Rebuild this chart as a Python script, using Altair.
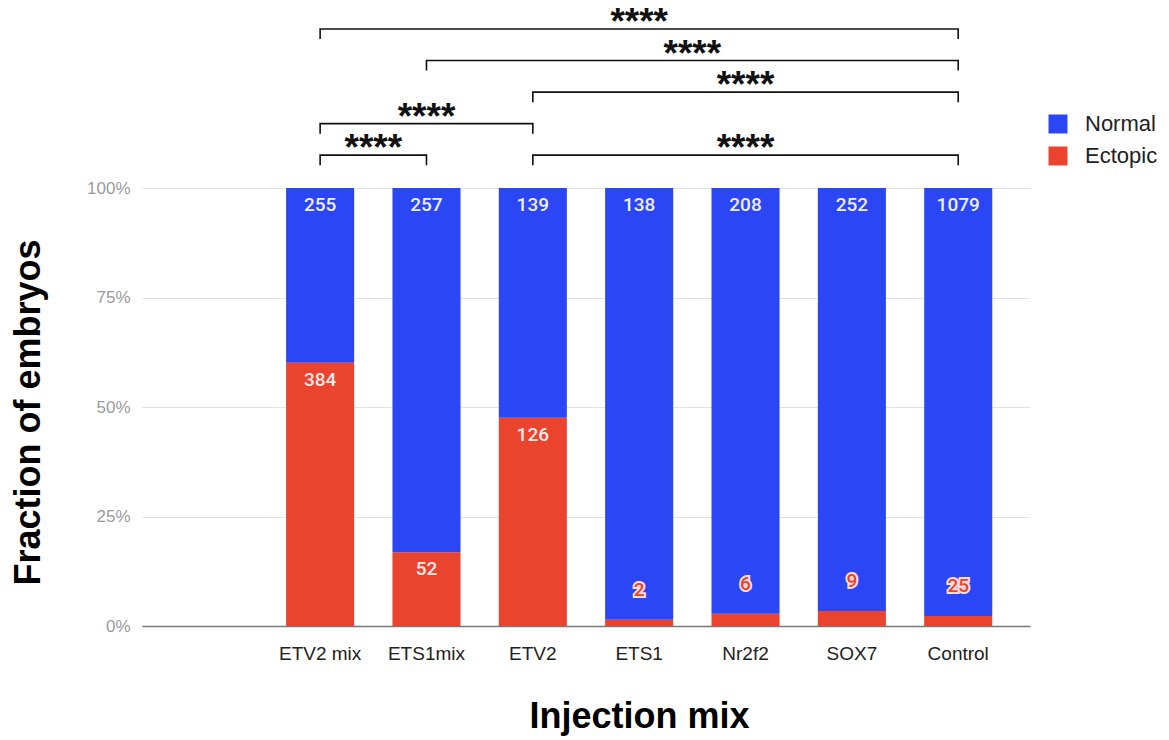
import altair as alt
import pandas as pd

# ---- data ----
mixes = [" ", "ETV2 mix", "ETS1mix", "ETV2", "ETS1", "Nr2f2", "SOX7", "Control"]
bar_mixes = ["ETV2 mix", "ETS1mix", "ETV2", "ETS1", "Nr2f2", "SOX7", "Control"]
normal_counts = [255, 257, 139, 138, 208, 252, 1079]
ectopic_counts = [384, 52, 126, 2, 6, 9, 25]
outcomes = ["Normal", "Ectopic"]
colors = ["#2a46f5", "#ea432e"]

cmp_start = ["ETV2 mix", "ETS1mix", "ETV2", "ETV2 mix", "ETV2 mix", "ETV2"]
cmp_end = ["Control", "Control", "Control", "ETV2", "ETS1mix", "Control"]
cmp_level = [5, 4, 3, 2, 1, 1]
cmp_label = ["****", "****", "****", "****", "****", "****"]

# ---- tables ----
long_rows = []
for m, n, e in zip(bar_mixes, normal_counts, ectopic_counts):
    long_rows.append({"mix": m, "outcome": "Ectopic", "count": e, "ord": 0})
    long_rows.append({"mix": m, "outcome": "Normal", "count": n, "ord": 1})
long_df = pd.DataFrame(long_rows)

wide = pd.DataFrame({"mix": bar_mixes, "normal": normal_counts, "ectopic": ectopic_counts})
wide["frac"] = wide["ectopic"] / (wide["ectopic"] + wide["normal"])
wide["top"] = 1.0
wide["small"] = wide["frac"] < 0.1

LEVEL0, LEVEL_STEP, TICK = 1.075, 0.072, 0.023
br_rows, star_rows = [], []
for i, (s, e, lv, lab) in enumerate(zip(cmp_start, cmp_end, cmp_level, cmp_label)):
    xs, xe = mixes.index(s), mixes.index(e)
    h = LEVEL0 + (lv - 1) * LEVEL_STEP
    for k, (xx, yy) in enumerate([(xs, h - TICK), (xs, h), (xe, h), (xe, h - TICK)]):
        br_rows.append({"id": i, "k": k, "xi": xx, "h": yy})
    star_rows.append({"mid": (xs + xe) / 2, "h": h, "label": lab})
br_df = pd.DataFrame(br_rows)
star_df = pd.DataFrame(star_rows)

PI, PO = 0.36, 0.355
O = PO + 0.5 - PI / 2
FONT = "Liberation Sans"
Y_TITLE = "Fraction of embryos"

x_band = alt.X(
    "mix:N",
    sort=mixes,
    scale=alt.Scale(domain=mixes, paddingInner=PI, paddingOuter=PO),
    axis=alt.Axis(
        title="Injection mix", labelAngle=0, labelFontSize=19, labelColor="#222222",
        labelFont=FONT, labelPadding=18, ticks=False, tickSize=0,
        domainColor="#777777", domainWidth=1.5,
        titleFontSize=36, titleFont=FONT, titleFontWeight="bold", titleColor="#000000",
        titleX=497, titleY=101, titleBaseline="alphabetic",
    ),
)
y_axis = alt.Axis(
    title=Y_TITLE, format=".0%", values=[0, 0.25, 0.5, 0.75, 1], grid=True,
    gridColor="#e2e2e2", domain=False, ticks=False, labelFontSize=17,
    labelColor="#9a9a9a", labelFont=FONT, labelPadding=12,
    titleFontSize=36, titleFont=FONT, titleFontWeight="bold", titleColor="#000000",
    titleX=-114, titleY=224, titleAngle=-90, titleBaseline="middle",
)

bars = alt.Chart(long_df).mark_bar().encode(
    x=x_band,
    y=alt.Y("count:Q", stack="normalize", scale=alt.Scale(domain=[0, 1]), axis=y_axis, title=Y_TITLE),
    color=alt.Color(
        "outcome:N",
        scale=alt.Scale(domain=outcomes, range=colors),
        legend=alt.Legend(
            title=None, orient="none", legendX=905, legendY=-75, direction="vertical",
            symbolType="square", symbolSize=361, symbolStrokeWidth=0,
            labelFontSize=22, labelFont=FONT, labelColor="#222222",
            labelOffset=16, rowPadding=10, padding=0,
        ),
    ),
    order=alt.Order("ord:Q"),
)

txt_normal = alt.Chart(wide).mark_text(
    baseline="middle", dy=17, fontSize=19, color="#eeeeff", font="Roboto", fontWeight=500
).encode(x=x_band, y=alt.Y("top:Q", title=Y_TITLE), text="normal:Q")

txt_ect_big = alt.Chart(wide).transform_filter("!datum.small").mark_text(
    baseline="middle", dy=17, fontSize=19, color="#fbeae8", font="Roboto", fontWeight=500
).encode(x=x_band, y=alt.Y("frac:Q", title=Y_TITLE), text="ectopic:Q")

txt_ect_halo = alt.Chart(wide).transform_filter("datum.small").mark_text(
    baseline="middle", dy=-30, fontSize=19, color="#ffffff", stroke="#ffdcd8",
    strokeWidth=4, font="Roboto", fontWeight=500
).encode(x=x_band, y=alt.Y("frac:Q", title=Y_TITLE), text="ectopic:Q")

txt_ect_small = alt.Chart(wide).transform_filter("datum.small").mark_text(
    baseline="middle", dy=-30, fontSize=19, color="#ea432e", font="Roboto", fontWeight=500
).encode(x=x_band, y=alt.Y("frac:Q", title=Y_TITLE), text="ectopic:Q")

x_q = alt.X("xi:Q", scale=alt.Scale(domain=[-O, len(mixes) - 1 + O], nice=False, zero=False), axis=None)

brackets = alt.Chart(br_df).mark_line(color="#111111", strokeWidth=1.6).encode(
    x=x_q,
    y=alt.Y("h:Q", title=Y_TITLE),
    detail="id:N",
    order="k:Q",
)
stars = alt.Chart(star_df).mark_text(
    baseline="alphabetic", dy=5, fontSize=37, fontWeight="bold", font=FONT, color="#111111"
).encode(
    x=alt.X("mid:Q", scale=alt.Scale(domain=[-O, len(mixes) - 1 + O], nice=False, zero=False), axis=None),
    y=alt.Y("h:Q", title=Y_TITLE),
    text="label:N",
)

main = alt.layer(bars, txt_normal, txt_ect_big, txt_ect_halo, txt_ect_small)
annot = alt.layer(brackets, stars)

chart = alt.layer(main, annot).resolve_scale(x="independent").properties(
    width=888,
    height=438,
    autosize=alt.AutoSizeParams(type="none"),
    padding={"left": 134, "top": 180, "right": 131, "bottom": 112},
).configure_view(stroke=None)

chart.save("out.html", embed_options={"renderer": "svg", "actions": False})
